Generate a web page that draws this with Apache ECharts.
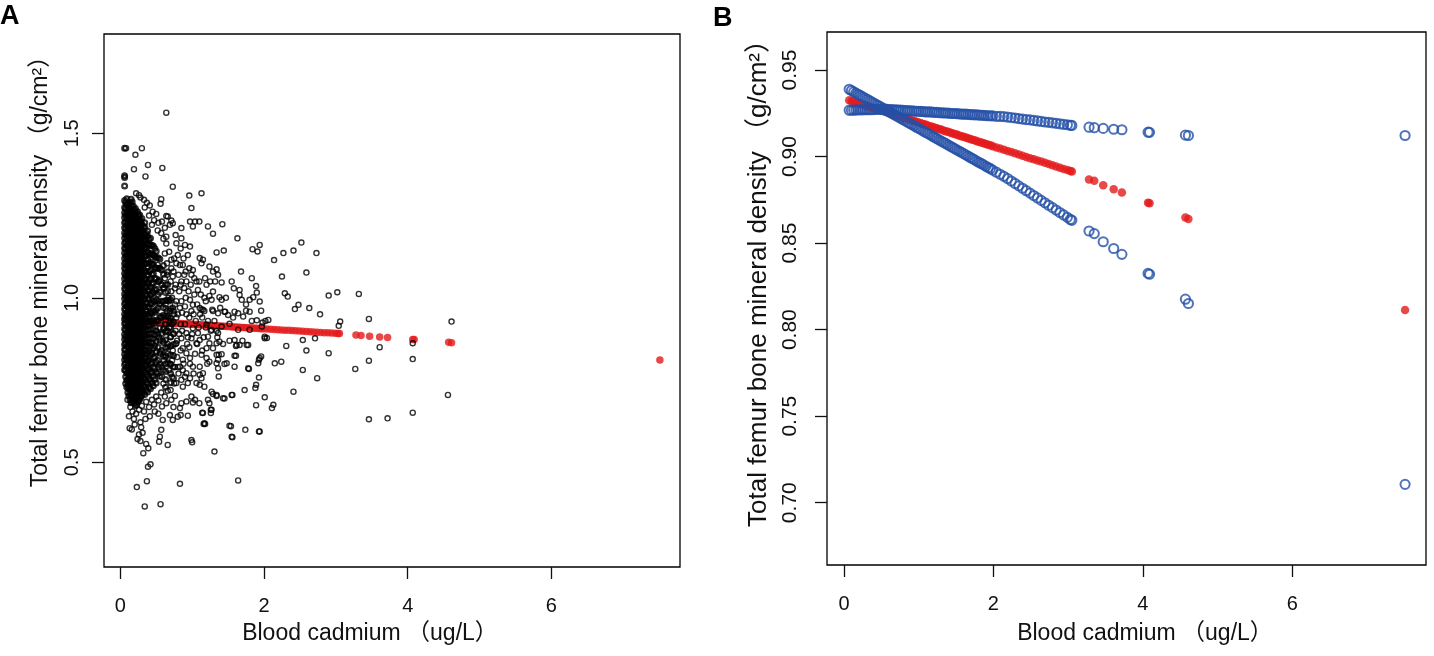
<!DOCTYPE html>
<html>
<head>
<meta charset="utf-8">
<script src="https://cdn.jsdelivr.net/npm/echarts@6.0.0/dist/echarts.min.js"></script>
<style>
  html, body { margin: 0; padding: 0; background: #fff; }
  #chart { width: 1434px; height: 656px; }
</style>
</head>
<body>
<div id="chart"></div>
<script>
// ---------------- data ----------------
// distinct blood cadmium levels (ug/L) that carry a fitted value
const cdLevels = [
  0.07, 0.10, 0.13, 0.16, 0.19, 0.22, 0.25, 0.28, 0.31, 0.34,
  0.37, 0.40, 0.43, 0.46, 0.49, 0.52, 0.55, 0.58, 0.61, 0.64,
  0.67, 0.70, 0.73, 0.76, 0.79, 0.82, 0.85, 0.88, 0.91, 0.94,
  0.97, 1.00, 1.03, 1.06, 1.09, 1.12, 1.15, 1.18, 1.21, 1.24,
  1.27, 1.30, 1.33, 1.36, 1.39, 1.42, 1.45, 1.48, 1.51, 1.54,
  1.57, 1.60, 1.63, 1.66, 1.69, 1.72, 1.75, 1.78, 1.81, 1.84,
  1.87, 1.90, 1.93, 1.96, 1.99, 2.04, 2.09, 2.14, 2.19, 2.24,
  2.29, 2.34, 2.39, 2.44, 2.49, 2.54, 2.59, 2.64, 2.69, 2.74,
  2.79, 2.84, 2.89, 2.94, 2.99, 3.03, 3.05, 3.28, 3.35, 3.47,
  3.61, 3.72, 4.07, 4.09, 4.57, 4.61, 7.51
];
// fitted BMD (red)
const fitBmd = [
  0.9325, 0.9321, 0.9317, 0.9313, 0.9309, 0.9305, 0.9301, 0.9296, 0.9292, 0.9288,
  0.9284, 0.9280, 0.9276, 0.9272, 0.9267, 0.9263, 0.9259, 0.9255, 0.9251, 0.9247,
  0.9243, 0.9238, 0.9234, 0.9230, 0.9226, 0.9222, 0.9218, 0.9214, 0.9209, 0.9205,
  0.9201, 0.9197, 0.9193, 0.9189, 0.9185, 0.9180, 0.9176, 0.9172, 0.9168, 0.9164,
  0.9160, 0.9156, 0.9151, 0.9147, 0.9143, 0.9139, 0.9135, 0.9131, 0.9127, 0.9122,
  0.9118, 0.9114, 0.9110, 0.9106, 0.9102, 0.9098, 0.9094, 0.9089, 0.9085, 0.9081,
  0.9077, 0.9073, 0.9069, 0.9065, 0.9060, 0.9053, 0.9047, 0.9040, 0.9033, 0.9026,
  0.9019, 0.9012, 0.9005, 0.8998, 0.8991, 0.8985, 0.8978, 0.8971, 0.8964, 0.8957,
  0.8950, 0.8943, 0.8936, 0.8929, 0.8922, 0.8917, 0.8914, 0.8868, 0.8860, 0.8835,
  0.8812, 0.8793, 0.8734, 0.8731, 0.8648, 0.8639, 0.8113
];
// confidence bound that stays nearly flat (blue)
const ciFlat = [
  0.9268, 0.9268, 0.9269, 0.9269, 0.9270, 0.9270, 0.9270, 0.9271, 0.9271, 0.9271,
  0.9272, 0.9272, 0.9273, 0.9273, 0.9273, 0.9274, 0.9274, 0.9273, 0.9272, 0.9271,
  0.9270, 0.9270, 0.9269, 0.9268, 0.9267, 0.9266, 0.9266, 0.9265, 0.9264, 0.9263,
  0.9262, 0.9262, 0.9261, 0.9260, 0.9259, 0.9258, 0.9258, 0.9257, 0.9256, 0.9255,
  0.9254, 0.9253, 0.9253, 0.9252, 0.9251, 0.9250, 0.9249, 0.9249, 0.9248, 0.9247,
  0.9246, 0.9245, 0.9245, 0.9244, 0.9243, 0.9242, 0.9241, 0.9241, 0.9240, 0.9239,
  0.9238, 0.9237, 0.9236, 0.9236, 0.9235, 0.9233, 0.9232, 0.9231, 0.9228, 0.9226,
  0.9223, 0.9220, 0.9217, 0.9214, 0.9212, 0.9209, 0.9206, 0.9203, 0.9200, 0.9198,
  0.9195, 0.9192, 0.9189, 0.9186, 0.9184, 0.9181, 0.9180, 0.9170, 0.9167, 0.9163,
  0.9158, 0.9155, 0.9141, 0.9140, 0.9124, 0.9122, 0.9122
];
// confidence bound that falls steeply (blue)
const ciSteep = [
  0.9389, 0.9382, 0.9374, 0.9367, 0.9360, 0.9353, 0.9345, 0.9338, 0.9331, 0.9323,
  0.9316, 0.9309, 0.9302, 0.9294, 0.9287, 0.9280, 0.9272, 0.9265, 0.9258, 0.9250,
  0.9243, 0.9236, 0.9229, 0.9221, 0.9214, 0.9207, 0.9199, 0.9192, 0.9185, 0.9178,
  0.9170, 0.9163, 0.9156, 0.9148, 0.9141, 0.9134, 0.9127, 0.9119, 0.9112, 0.9105,
  0.9097, 0.9090, 0.9083, 0.9076, 0.9068, 0.9061, 0.9054, 0.9046, 0.9039, 0.9032,
  0.9025, 0.9017, 0.9010, 0.9003, 0.8995, 0.8988, 0.8981, 0.8973, 0.8966, 0.8959,
  0.8952, 0.8944, 0.8937, 0.8930, 0.8922, 0.8910, 0.8898, 0.8886, 0.8873, 0.8859,
  0.8845, 0.8831, 0.8817, 0.8803, 0.8789, 0.8775, 0.8761, 0.8747, 0.8733, 0.8719,
  0.8705, 0.8691, 0.8677, 0.8663, 0.8649, 0.8637, 0.8632, 0.8570, 0.8555, 0.8508,
  0.8469, 0.8435, 0.8325, 0.8320, 0.8176, 0.8151, 0.7106
];

// panel A raw observations: the dense block at low cadmium, column by column
const coreX = [
  0.06, 0.09, 0.12, 0.15, 0.18, 0.21, 0.24, 0.27, 0.30, 0.34, 0.38, 0.42, 0.46, 0.50, 0.55, 0.60, 0.66,
  0.075, 0.105, 0.135, 0.165, 0.195, 0.225, 0.255, 0.285, 0.32, 0.36, 0.40, 0.44, 0.48, 0.525, 0.575,
  0.63, 0.70, 0.74
];
const coreY = [
  [0.781,0.797,0.812,0.829,0.843,0.858,0.874,0.889,0.905,0.921,0.936,0.950,0.966,0.981,0.997,1.012,1.028,1.043,1.058,1.074,1.090,1.104,1.120,1.136,1.151,1.166,1.182,1.197,1.213,1.228,1.244,1.259,1.275,1.296,1.340,1.366,1.371,1.455],
  [0.728,0.749,0.771,0.790,0.812,0.831,0.853,0.872,0.893,0.913,0.934,0.954,0.975,0.995,1.016,1.036,1.057,1.077,1.098,1.118,1.139,1.159,1.180,1.200,1.221,1.241,1.262,1.283,1.301],
  [0.702,0.724,0.742,0.763,0.781,0.803,0.822,0.842,0.861,0.882,0.901,0.921,0.942,0.960,0.981,1.002,1.020,1.041,1.060,1.081,1.100,1.121,1.140,1.161,1.180,1.201,1.220,1.241,1.262,1.285],
  [0.681,0.699,0.718,0.740,0.759,0.781,0.800,0.819,0.841,0.860,0.879,0.901,0.920,0.939,0.961,0.980,0.999,1.021,1.040,1.059,1.081,1.100,1.119,1.141,1.160,1.179,1.201,1.220,1.240,1.262,1.281,1.300],
  [0.694,0.712,0.733,0.751,0.772,0.790,0.811,0.830,0.850,0.869,0.889,0.908,0.928,0.947,0.967,0.986,1.006,1.025,1.045,1.064,1.084,1.103,1.123,1.142,1.162,1.181,1.201,1.220,1.240,1.259,1.279],
  [0.672,0.691,0.709,0.729,0.748,0.768,0.787,0.807,0.826,0.846,0.865,0.885,0.904,0.924,0.943,0.963,0.982,1.002,1.021,1.041,1.060,1.080,1.099,1.119,1.138,1.158,1.177,1.197,1.216,1.236,1.255,1.272],
  [0.684,0.703,0.722,0.742,0.761,0.781,0.800,0.820,0.839,0.859,0.878,0.898,0.917,0.937,0.956,0.976,0.995,1.015,1.034,1.054,1.073,1.093,1.112,1.132,1.151,1.171,1.190,1.210,1.229,1.249,1.262],
  [0.692,0.713,0.732,0.752,0.771,0.791,0.810,0.830,0.849,0.869,0.888,0.908,0.927,0.947,0.966,0.986,1.005,1.025,1.044,1.064,1.083,1.103,1.122,1.142,1.161,1.181,1.200,1.220,1.238,1.252],
  [0.704,0.724,0.745,0.764,0.786,0.805,0.826,0.845,0.866,0.885,0.906,0.925,0.946,0.965,0.986,1.005,1.026,1.045,1.066,1.085,1.106,1.125,1.146,1.165,1.186,1.205,1.224,1.241],
  [0.706,0.729,0.751,0.773,0.796,0.818,0.840,0.862,0.884,0.906,0.928,0.950,0.972,0.994,1.016,1.038,1.060,1.082,1.104,1.126,1.148,1.170,1.192,1.214,1.228],
  [0.714,0.738,0.761,0.785,0.809,0.832,0.856,0.880,0.903,0.927,0.951,0.974,0.998,1.022,1.045,1.069,1.093,1.116,1.140,1.164,1.187,1.203],
  [0.724,0.750,0.776,0.801,0.827,0.853,0.878,0.904,0.930,0.955,0.981,1.007,1.032,1.058,1.084,1.109,1.135,1.160,1.181],
  [0.733,0.762,0.790,0.818,0.847,0.875,0.903,0.932,0.960,0.988,1.017,1.045,1.073,1.102,1.130,1.158],
  [0.741,0.773,0.804,0.836,0.868,0.899,0.931,0.963,0.994,1.026,1.058,1.089,1.121,1.142],
  [0.762,0.798,0.835,0.871,0.908,0.944,0.981,1.017,1.054,1.090,1.118],
  [0.781,0.823,0.864,0.906,0.947,0.989,1.030,1.072,1.098],
  [0.803,0.851,0.898,0.946,0.993,1.041,1.079],
  [0.740,0.760,0.780,0.801,0.820,0.842,0.861,0.882,0.902,0.923,0.944,0.964,0.985,1.005,1.026,1.046,1.067,1.087,1.108,1.128,1.149,1.170,1.190,1.211,1.231,1.252,1.272,1.290],
  [0.712,0.733,0.752,0.772,0.792,0.813,0.832,0.852,0.871,0.892,0.911,0.931,0.951,0.971,0.991,1.011,1.031,1.051,1.070,1.091,1.110,1.131,1.150,1.171,1.190,1.211,1.230,1.251,1.272],
  [0.690,0.709,0.729,0.750,0.770,0.790,0.810,0.830,0.850,0.870,0.890,0.910,0.930,0.950,0.970,0.990,1.010,1.030,1.050,1.070,1.090,1.110,1.130,1.150,1.170,1.190,1.210,1.230,1.251,1.271,1.290],
  [0.686,0.704,0.724,0.745,0.765,0.785,0.805,0.825,0.845,0.865,0.884,0.904,0.924,0.944,0.964,0.984,1.004,1.024,1.044,1.064,1.084,1.104,1.124,1.144,1.164,1.184,1.204,1.224,1.248,1.270,1.292],
  [0.680,0.700,0.720,0.739,0.759,0.778,0.798,0.818,0.838,0.857,0.877,0.896,0.916,0.936,0.955,0.975,0.995,1.014,1.034,1.053,1.073,1.093,1.112,1.132,1.151,1.171,1.191,1.210,1.230,1.249,1.268],
  [0.676,0.696,0.715,0.735,0.754,0.774,0.793,0.813,0.832,0.852,0.871,0.891,0.910,0.930,0.949,0.969,0.988,1.008,1.027,1.047,1.066,1.086,1.105,1.125,1.144,1.164,1.183,1.203,1.222,1.242,1.258],
  [0.688,0.708,0.727,0.747,0.766,0.786,0.805,0.825,0.844,0.864,0.883,0.903,0.922,0.942,0.961,0.981,1.000,1.020,1.039,1.059,1.078,1.098,1.117,1.137,1.156,1.176,1.195,1.215,1.234,1.250],
  [0.698,0.718,0.738,0.758,0.778,0.798,0.818,0.838,0.857,0.877,0.897,0.917,0.937,0.956,0.976,0.996,1.016,1.036,1.056,1.075,1.095,1.115,1.135,1.155,1.174,1.194,1.214,1.232],
  [0.712,0.734,0.756,0.778,0.800,0.822,0.844,0.866,0.888,0.910,0.932,0.954,0.976,0.998,1.020,1.042,1.064,1.086,1.108,1.130,1.152,1.174,1.196,1.218],
  [0.720,0.744,0.768,0.792,0.816,0.840,0.864,0.888,0.912,0.936,0.960,0.984,1.008,1.032,1.056,1.080,1.104,1.128,1.152,1.176,1.196],
  [0.728,0.755,0.782,0.809,0.836,0.863,0.890,0.917,0.944,0.971,0.998,1.025,1.052,1.079,1.106,1.133,1.160,1.178],
  [0.742,0.772,0.802,0.832,0.862,0.892,0.922,0.952,0.982,1.012,1.042,1.072,1.102,1.132,1.160],
  [0.752,0.786,0.820,0.854,0.888,0.922,0.956,0.990,1.024,1.058,1.092,1.126,1.150],
  [0.770,0.810,0.850,0.890,0.930,0.970,1.010,1.050,1.090,1.122],
  [0.790,0.840,0.890,0.940,0.990,1.040,1.085],
  [0.728,0.752,0.776,0.800,0.824,0.848,0.872,0.896,0.920,0.944,0.968,0.992,1.016,1.040],
  [0.742,0.770,0.798,0.826,0.854,0.882,0.910,0.938,0.966,0.994],
  [0.756,0.790,0.824,0.858,0.892,0.926,0.960]
];
// panel A raw observations outside the dense block [cadmium, BMD]
const scatterPts = [
  [0.64,1.563],[0.08,1.455],[0.30,1.455],[0.21,1.435],[0.385,1.404],[0.19,1.391],[0.585,1.395],[0.35,1.369],
  [0.73,1.338],[0.96,1.311],[1.13,1.318],[0.99,1.273],[0.57,1.300],[0.56,1.286],[0.66,1.247],[0.71,1.235],
  [0.22,1.318],[0.26,1.312],[0.28,1.305],[0.33,1.298],[0.37,1.289],[0.41,1.281],[0.34,1.275],[0.45,1.262],
  [0.50,1.255],[0.40,1.250],[0.47,1.236],[0.53,1.228],[0.58,1.232],[0.44,1.222],[0.52,1.205],[0.57,1.197],
  [0.62,1.213],[0.60,1.180],[0.64,1.165],[0.69,1.222],[0.73,1.227],[0.64,1.249],
  [0.85,1.212],[0.97,1.232],[1.04,1.232],[1.10,1.232],[1.01,1.217],[1.22,1.217],[1.42,1.224],[1.29,1.195],
  [1.63,1.181],[0.77,1.191],[0.85,1.181],[0.64,1.186],[0.90,1.161],[0.97,1.156],[0.78,1.166],[1.34,1.138],
  [1.44,1.144],[1.105,1.121],[1.15,1.116],[1.13,1.105],[1.84,1.148],[1.91,1.141],[1.94,1.161],[0.71,1.116],
  [0.78,1.105],[0.87,1.100],[1.01,1.085],[0.99,1.070],[1.24,1.095],[1.29,1.080],[1.34,1.087],[1.36,1.070],
  [0.73,1.065],[0.85,1.050],[0.92,1.050],[0.76,1.029],[1.06,1.050],[1.08,1.024],[1.20,1.040],[1.29,1.019],
  [1.41,1.047],[1.83,1.060],[1.58,1.029],[1.66,1.024],[1.66,1.009],[1.69,0.994],[1.89,1.036],[1.90,1.016],
  [1.85,1.002],[1.38,1.002],[1.41,0.994],[1.24,1.006],[1.27,0.994],[1.80,0.994],[1.94,0.989],[0.97,0.994],
  [1.01,0.979],[0.90,0.974],[1.105,0.969],[1.15,0.964],[1.28,0.964],[1.36,0.953],[1.45,0.958],[1.50,0.948],
  [1.59,0.958],[1.64,0.953],[1.71,0.943],[1.80,0.958],[2.06,0.933],
  [2.14,1.115],[2.27,1.136],[2.41,1.144],[2.52,1.168],[2.73,1.136],[2.25,1.065],[2.59,1.077],[2.29,1.014],
  [2.33,1.004],[2.90,1.007],[3.02,1.017],[3.32,1.012],[2.43,0.966],[2.48,0.979],[2.63,0.969],[2.78,0.950],
  [3.06,0.928],[3.04,0.915],[3.46,0.936],[4.61,0.928],[1.96,0.961],[2.02,0.930],[1.98,0.925],[1.90,0.932],
  [1.46,0.958],[1.75,0.961],[1.29,0.960],[1.17,0.960],[1.13,0.965],
  [2.31,0.854],[2.54,0.872],[2.71,0.877],[2.59,0.840],[2.90,0.832],[3.27,0.784],[3.46,0.809],[3.61,0.850],
  [4.07,0.862],[4.07,0.814],[4.56,0.705],[3.46,0.631],[3.72,0.634],[4.07,0.651],[2.54,0.781],[2.74,0.756],
  [2.41,0.715],[2.15,0.801],[2.24,0.806],[1.93,0.812],[1.96,0.822],[1.79,0.784],[1.93,0.758],[1.88,0.726],
  [2.01,0.698],[2.13,0.675],[2.11,0.665],[1.89,0.674],[1.73,0.720],[1.56,0.705],[1.59,0.791],[1.61,0.824],
  [1.61,0.854],[1.76,0.857],[2.01,0.877],[2.04,0.878],[1.54,0.610],[1.56,0.576],[1.74,0.599],[1.93,0.594],
  [1.64,0.445],[1.31,0.533],[1.00,0.561],[0.83,0.435],[0.66,0.553],[0.56,0.373],[0.34,0.366],[0.23,0.425],
  [0.37,0.443],[0.385,0.487],[0.42,0.494],[0.32,0.528],[0.36,0.556],[0.39,0.543],[0.54,0.563],[0.55,0.578],
  [0.57,0.599],[0.24,0.571],[0.26,0.585],[0.28,0.565],[0.13,0.604],[0.29,0.607],[0.31,0.590],[1.16,0.617],
  [1.18,0.617],[1.26,0.660],[1.26,0.650],[1.14,0.651],[0.94,0.642],[0.84,0.644],[1.45,0.694],[1.34,0.702],
  [1.29,0.708],[1.22,0.690],[1.10,0.680],[1.01,0.682],[1.37,0.761],[1.36,0.786],[1.34,0.801],[1.37,0.827],
  [1.41,0.829],[1.45,0.799],[1.35,0.880],[1.34,0.900],[1.26,0.900],
  [1.20,0.918],[1.27,0.903],[1.36,0.893],[1.41,0.913],[1.52,0.921],[1.64,0.903],[1.80,0.903],[1.97,0.913],
  [1.22,0.882],[1.24,0.862],[1.34,0.862],[1.38,0.867],[1.20,0.847],[1.29,0.847],[1.59,0.872],[1.62,0.857],
  [1.66,0.857],[1.78,0.857],[2.01,0.882],[1.59,0.824],[1.78,0.786],[1.94,0.817],[1.92,0.801],[1.34,0.827],
  [1.36,0.812],[1.48,0.801],[1.24,0.806],[1.20,0.817],[1.13,0.827],[1.105,0.791],[1.15,0.771],[1.13,0.756],
  [1.105,0.736],[1.17,0.730],[1.27,0.715],[1.34,0.705],[1.43,0.695],[1.55,0.705],[1.89,0.736],[1.24,0.680],
  [1.27,0.660],[1.15,0.650],[1.17,0.619],[1.52,0.611],[1.55,0.578],[1.94,0.594],[0.99,0.568],[0.87,0.730],
  [0.94,0.741],[0.99,0.700],[1.04,0.690],[0.92,0.685],[0.85,0.680],[0.83,0.665],[0.80,0.639],[0.73,0.629],
  [0.69,0.644],[0.59,0.629],[0.87,0.847],[0.92,0.832],[0.97,0.817],[1.01,0.791],[0.87,0.812],[0.83,0.791],
  [0.92,0.771],[0.85,0.751],[0.78,0.741],[0.97,0.756],[1.06,0.741],[1.105,0.766],[1.01,0.908],[1.08,0.893],
  [1.105,0.872],[0.99,0.877],[1.06,0.862],[0.92,0.893],[0.85,0.877],[0.78,0.862],
  [0.10,0.690],[0.14,0.668],[0.17,0.655],[0.12,0.640],[0.19,0.632],[0.22,0.648],[0.26,0.660],[0.30,0.672],
  [0.33,0.655],[0.36,0.684],[0.40,0.668],[0.44,0.690],[0.47,0.676],[0.50,0.700],[0.53,0.688],[0.57,0.712],
  [0.62,0.700],[0.66,0.718],[0.48,0.655],[0.41,0.640],[0.35,0.632],[0.28,0.622],[0.20,0.615],[0.16,0.600],
  [0.53,0.648],[0.58,0.670],[0.64,0.680],[0.71,0.690],[0.76,0.702],[0.74,0.668],[0.70,0.720],
  [0.70,1.050],[0.72,1.000],[0.69,0.960],[0.72,0.920],[0.70,0.880],[0.73,0.840],[0.69,0.800],[0.72,0.760],
  [0.76,0.980],[0.78,0.940],[0.77,0.900],[0.79,0.820],[0.76,0.790],[0.81,1.070],[0.82,1.020],[0.83,0.970],
  [0.84,0.920],[0.82,0.890],[0.86,0.955],[0.89,1.030],[0.90,0.920],[0.88,0.800],[0.81,0.770],[0.95,1.020],
  [0.96,0.940],[0.94,0.880],[0.96,0.850],[1.02,0.950],[1.03,1.010],[1.04,0.830],[1.07,0.980],[1.09,0.910],
  [1.12,1.010],[1.14,0.940],[1.16,0.880],[1.18,1.060],[1.19,0.990],[1.22,0.930],[1.25,1.050],[1.31,0.930],
  [1.32,1.050],[1.39,0.970],[1.43,0.860],[1.47,1.000],[1.52,0.870],[1.55,1.050],[1.57,0.940],[1.70,0.870],
  [1.68,1.080],[1.75,0.980],[1.83,0.930],
  [0.62,1.135],[0.65,1.105],[0.68,1.140],[0.62,1.060],[0.66,1.020],[0.63,0.980],[0.67,0.940],[0.64,0.900],
  [0.66,0.860],[0.63,0.820],[0.68,0.990],[0.75,1.120],[0.74,1.080],[0.80,1.130],[0.84,1.150],[0.88,1.120],
  [0.91,1.080],[0.94,1.130],[0.79,0.870],[0.75,0.950],
  [0.52,1.100],[0.54,1.050],[0.53,0.990],[0.56,0.940],[0.54,0.880],[0.56,0.830],[0.53,0.790],[0.58,0.760],
  [0.61,1.030],[0.60,0.970],[0.62,0.920],[0.59,0.870],[0.61,0.810],[0.60,0.740],[0.65,1.070],[0.67,1.000],
  [0.65,0.960],[0.68,0.910],[0.66,0.830],[0.68,0.780],[0.71,1.090],[0.71,1.020],[0.73,0.970],[0.70,0.930],
  [0.74,0.890],[0.72,0.810],[0.75,0.740],[0.77,1.040],[0.78,0.990],[0.80,0.950],[0.77,0.860],[0.80,0.790],
  [0.83,1.100],[0.84,1.040],[0.85,0.990],[0.86,0.900],[0.84,0.840],[0.87,0.780],[0.89,1.070],[0.91,1.000],
  [0.92,0.950],[0.93,0.860],[0.90,0.760],[0.96,1.090],[0.98,1.040],[0.99,0.960],[1.00,0.890],[0.97,0.800],
  [1.03,1.060],[1.05,0.930],[1.07,0.860],[1.02,0.770],[1.10,1.050],[1.11,0.950],[1.14,0.840],[1.17,1.000],
  [1.19,0.910],[1.21,0.800]
];

const xTicks = [0, 2, 4, 6];
const yTicksA = [0.5, 1.0, 1.5];
const yTicksB = [0.70, 0.75, 0.80, 0.85, 0.90, 0.95];

// ---------------- chart ----------------
const FONT = "'Liberation Sans', Arial, 'Noto Sans CJK SC', sans-serif";
const RED = '#e41a1c';
const BLUE = '#2450a8';
const INK = '#111';

const zip = (xs, ys) => xs.map((x, i) => [x, ys[i]]);
const coreA = [];
coreX.forEach((x, i) => coreY[i].forEach(y => coreA.push([x, y])));

function xAxis(grid, fontSize) {
  return {
    gridIndex: grid, type: 'value', min: -0.227, max: 7.79,
    axisLine: { show: false, onZero: false },
    axisTick: { show: true, length: 12, customValues: xTicks, lineStyle: { color: INK, width: 1.3 } },
    axisLabel: { customValues: xTicks, margin: 29, fontSize: fontSize, color: INK, fontFamily: FONT },
    splitLine: { show: false },
  };
}
function yAxis(grid, min, max, ticks, digits, margin, fontSize) {
  return {
    gridIndex: grid, type: 'value', min: min, max: max,
    axisLine: { show: false, onZero: false },
    axisTick: { show: true, length: 12, customValues: ticks, lineStyle: { color: INK, width: 1.3 } },
    axisLabel: {
      customValues: ticks, rotate: 90, margin: margin, fontSize: fontSize, color: INK, fontFamily: FONT,
      formatter: v => (+v).toFixed(digits),
    },
    splitLine: { show: false },
  };
}

const openCircle = (color, size, width) => ({
  type: 'scatter', symbol: 'circle', symbolSize: size, silent: true, large: false,
  itemStyle: { color: 'rgba(0,0,0,0)', borderColor: color, borderWidth: width },
});
const dot = (size) => ({
  type: 'scatter', symbol: 'circle', symbolSize: size, silent: true,
  itemStyle: { color: RED, borderWidth: 0 },
});

const titleStyle = (size) => ({ fontSize: size, fill: INK, fontFamily: FONT, align: 'center', verticalAlign: 'middle' });
const yTitle = 'Total femur bone mineral density （g/cm²）';
const xTitle = 'Blood cadmium （ug/L）';

const chart = echarts.init(document.getElementById('chart'));
chart.setOption({
  animation: false,
  backgroundColor: '#fff',
  grid: [
    { left: 104, top: 34, width: 576, height: 533, show: true, borderColor: '#000', borderWidth: 1.3, backgroundColor: 'transparent' },
    { left: 827, top: 32, width: 599, height: 533, show: true, borderColor: '#000', borderWidth: 1.3, backgroundColor: 'transparent' },
  ],
  xAxis: [xAxis(0, 20), xAxis(1, 20)],
  yAxis: [
    yAxis(0, 0.182, 1.802, yTicksA, 1, 22, 20),
    yAxis(1, 0.664, 0.972, yTicksB, 2, 26, 21),
  ],
  series: [
    Object.assign(dot(7.5), { name: 'fit A', xAxisIndex: 0, yAxisIndex: 0, data: zip(cdLevels, fitBmd) }),
    Object.assign(openCircle('#000', 4.8, 2.2), { name: 'observed dense', xAxisIndex: 0, yAxisIndex: 0, data: coreA }),
    Object.assign(openCircle('#000', 5.1, 1.4), { name: 'observed', xAxisIndex: 0, yAxisIndex: 0, data: scatterPts }),
    Object.assign(dot(8.5), { name: 'fit B', xAxisIndex: 1, yAxisIndex: 1, data: zip(cdLevels, fitBmd) }),
    Object.assign(openCircle(BLUE, 9.2, 2.0), { name: 'ci flat', xAxisIndex: 1, yAxisIndex: 1, data: zip(cdLevels, ciFlat) }),
    Object.assign(openCircle(BLUE, 9.2, 2.0), { name: 'ci steep', xAxisIndex: 1, yAxisIndex: 1, data: zip(cdLevels, ciSteep) }),
  ],
  graphic: [
    { type: 'text', left: 0, top: 3, style: { text: 'A', fontSize: 27, fontWeight: 'bold', fill: '#000', fontFamily: FONT } },
    { type: 'text', left: 713, top: 5, style: { text: 'B', fontSize: 27, fontWeight: 'bold', fill: '#000', fontFamily: FONT } },
    { type: 'text', x: 370, y: 634, style: Object.assign({ text: xTitle }, titleStyle(23)) },
    { type: 'text', x: 1145, y: 634, style: Object.assign({ text: xTitle }, titleStyle(23)) },
    { type: 'text', x: 41, y: 266, rotation: Math.PI / 2, style: Object.assign({ text: yTitle }, titleStyle(23)) },
    { type: 'text', x: 759, y: 277, rotation: Math.PI / 2, style: Object.assign({ text: yTitle }, titleStyle(26)) },
  ],
});
</script>
</body>
</html>
